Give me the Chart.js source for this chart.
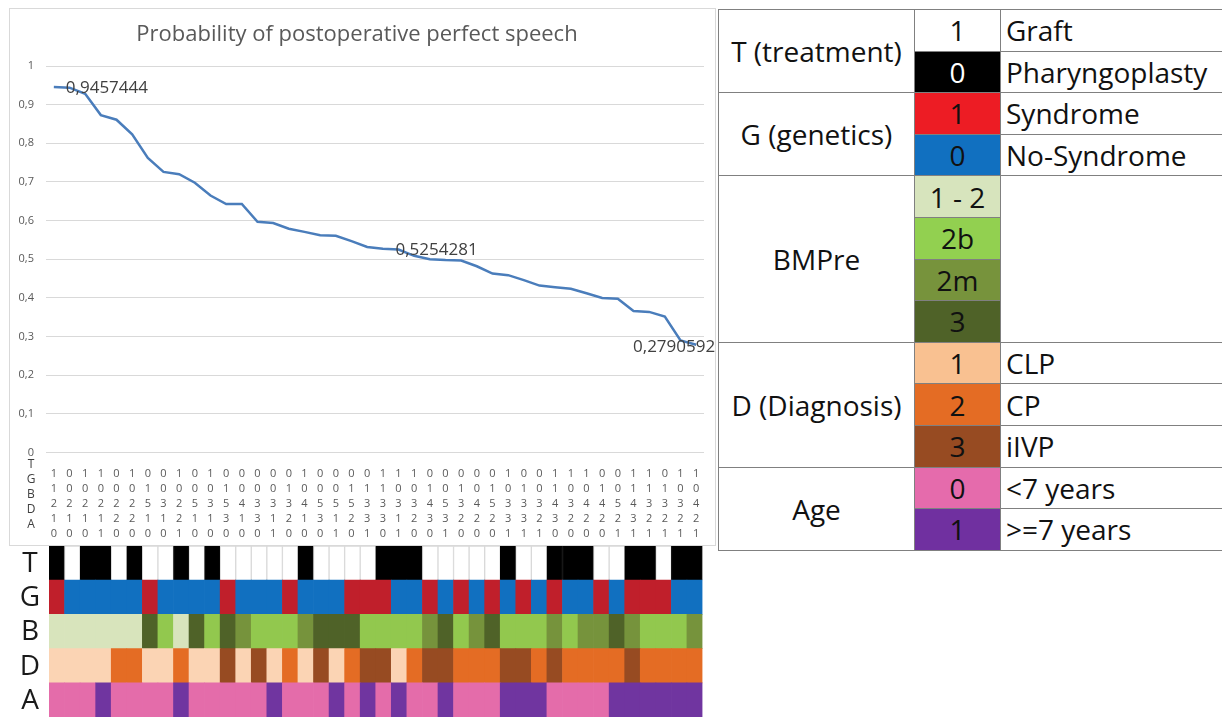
<!DOCTYPE html>
<html>
<head>
<meta charset="utf-8">
<script src="https://cdn.jsdelivr.net/npm/chart.js@4.4.1/dist/chart.umd.min.js"></script>
<style>
  html, body { margin: 0; padding: 0; background: #fff; width: 1222px; height: 717px; overflow: hidden; font-family: "Open Sans", sans-serif; }
  #lineBox { position: absolute; left: 9px; top: 8px; width: 707px; height: 538px; border: 1px solid #d9d9d9; box-sizing: border-box; }
  #heatBox { position: absolute; left: 0; top: 546px; width: 715px; height: 171px; }
  #legend { position: absolute; left: 718px; top: 9px; border-collapse: collapse; table-layout: fixed; width: 522px; }
  #legend td { height: 40.6px; padding: 0; border: 1.5px solid #808080; font-size: 28px; color: #111; line-height: 1; white-space: nowrap; }
  #legend td.lab { text-align: center; }
  #legend td.sw { text-align: center; }
  #legend td.desc { padding-left: 5px; }
</style>
</head>
<body>
<div id="lineBox"><canvas id="lineChart"></canvas></div>
<div id="heatBox"><canvas id="heatChart"></canvas></div>

<table id="legend">
  <colgroup><col style="width:196px"><col style="width:86px"><col style="width:240px"></colgroup>
  <tr><td class="lab" rowspan="2">T (treatment)</td><td class="sw" style="background:#fff">1</td><td class="desc">Graft</td></tr>
  <tr><td class="sw" style="background:#000;color:#fff">0</td><td class="desc">Pharyngoplasty</td></tr>
  <tr><td class="lab" rowspan="2">G (genetics)</td><td class="sw" style="background:#ed1c24">1</td><td class="desc">Syndrome</td></tr>
  <tr><td class="sw" style="background:#1170c0">0</td><td class="desc">No-Syndrome</td></tr>
  <tr><td class="lab" rowspan="4">BMPre</td><td class="sw" style="background:#d7e4bd">1 - 2</td><td class="desc" rowspan="4"></td></tr>
  <tr><td class="sw" style="background:#92d050">2b</td></tr>
  <tr><td class="sw" style="background:#77933c">2m</td></tr>
  <tr><td class="sw" style="background:#4f6228">3</td></tr>
  <tr><td class="lab" rowspan="3">D (Diagnosis)</td><td class="sw" style="background:#f9c191">1</td><td class="desc">CLP</td></tr>
  <tr><td class="sw" style="background:#e46c24">2</td><td class="desc">CP</td></tr>
  <tr><td class="sw" style="background:#974b22">3</td><td class="desc">iIVP</td></tr>
  <tr><td class="lab" rowspan="2">Age</td><td class="sw" style="background:#e56bac">0</td><td class="desc">&lt;7 years</td></tr>
  <tr><td class="sw" style="background:#7030a0">1</td><td class="desc">&gt;=7 years</td></tr>
</table>

<script>
// patient profiles (one column each)
const T = [1,0,1,1,0,1,0,0,1,0,1,0,0,0,0,0,1,0,0,0,0,1,1,1,0,0,0,0,0,1,0,0,1,1,1,0,0,1,1,0,1,1];
const G = [1,0,0,0,0,0,1,0,0,0,0,1,0,0,0,1,0,0,0,1,1,1,0,0,1,0,1,0,1,0,1,0,1,0,0,1,0,1,1,1,0,0,1];
const B = [2,2,2,2,2,2,5,3,2,5,3,5,4,3,3,3,4,5,5,5,3,3,3,3,4,5,3,4,5,3,3,3,4,3,4,4,5,4,3,3,3,4];
const D = [1,1,1,1,2,2,1,1,2,1,1,3,1,3,1,2,1,3,1,2,3,3,1,2,3,3,2,2,2,3,3,2,3,2,2,2,2,3,2,2,2,2];
const A = [0,0,0,1,0,0,0,0,1,0,0,0,0,0,1,0,0,0,1,0,1,0,1,0,0,1,0,0,0,1,1,1,0,0,0,0,1,1,1,1,1,1];

// probability of perfect speech per profile
const prob = [0.9457444,0.944,0.928,0.873,0.861,0.823,0.762,0.726,0.720,0.698,0.665,0.643,0.643,0.597,
  0.594,0.579,0.571,0.562,0.561,0.547,0.532,0.527,0.5254281,0.509,0.500,0.498,0.497,0.482,
  0.463,0.459,0.446,0.432,0.428,0.424,0.412,0.400,0.398,0.366,0.364,0.352,0.290,0.2790592];

const rowNames = ["T", "G", "B", "D", "A"];
const labels = T.map((t, i) => [t, G[i], B[i], D[i], A[i]].map(String));

const palette = {
  T: { 0: "#ffffff", 1: "#000000" },
  G: { 0: "#1170c0", 1: "#c01f2b" },
  B: { 2: "#d8e4bc", 3: "#92c84e", 4: "#76933c", 5: "#4f6228" },
  D: { 1: "#fbd4b4", 2: "#e46c24", 3: "#974b22" },
  A: { 0: "#e46caa", 1: "#7035a0" },
};

const FONT = '"Open Sans", sans-serif';
const TICK_PAD = 6;
const LINE_H = 15;

// value labels next to a few points
const pointLabels = {
  id: "pointLabels",
  afterDatasetsDraw(chart, args, opts) {
    const meta = chart.getDatasetMeta(0);
    const ctx = chart.ctx;
    ctx.save();
    ctx.font = "17px " + FONT;
    ctx.fillStyle = "#404040";
    ctx.textBaseline = "middle";
    opts.items.forEach(it => {
      const pt = meta.data[it.index];
      ctx.textAlign = it.align;
      ctx.fillText(String(prob[it.index]).replace(".", ","), pt.x + it.dx, pt.y + it.dy);
    });
    ctx.restore();
  }
};

// row names in front of the multi-line category labels
const axisRowNames = {
  id: "axisRowNames",
  afterDraw(chart) {
    const xs = chart.scales.x;
    const ctx = chart.ctx;
    ctx.save();
    ctx.font = "12px " + FONT;
    ctx.fillStyle = "#404040";
    ctx.textAlign = "center";
    ctx.textBaseline = "middle";
    rowNames.forEach((n, i) => {
      ctx.fillText(n, 21, xs.top + TICK_PAD + LINE_H * (i + 0.5) - 2);
    });
    ctx.restore();
  }
};

new Chart(document.getElementById("lineChart").getContext("2d"), {
  type: "line",
  data: {
    labels: labels,
    datasets: [{
      data: prob,
      borderColor: "#4a7dbb",
      borderWidth: 2.5,
      pointRadius: 0,
      tension: 0,
      fill: false,
    }],
  },
  options: {
    responsive: true,
    maintainAspectRatio: false,
    animation: false,
    layout: { padding: { left: 0, right: 11, top: 0, bottom: 0 } },
    scales: {
      x: {
        offset: true,
        grid: { display: false },
        border: { display: false },
        ticks: {
          autoSkip: false,
          maxRotation: 0,
          padding: TICK_PAD,
          color: "#595959",
          font: { family: FONT, size: 11, lineHeight: LINE_H / 11 },
        },
        afterFit: s => { s.height = 92.4; },
      },
      y: {
        min: 0,
        max: 1,
        grid: { color: "#d9d9d9", drawTicks: false },
        border: { display: false },
        ticks: {
          stepSize: 0.1,
          padding: 12,
          color: "#595959",
          font: { family: FONT, size: 11 },
          callback: v => (v === 0 ? "0" : v === 1 ? "1" : Number(v).toFixed(1).replace(".", ",")),
        },
        afterFit: s => { s.width = 36; },
      },
    },
    plugins: {
      legend: { display: false },
      tooltip: { enabled: false },
      title: {
        display: true,
        text: "Probability of postoperative perfect speech",
        color: "#595959",
        font: { family: FONT, size: 22, weight: "normal" },
        padding: { top: 13, bottom: 17.6 },
      },
      pointLabels: {
        items: [
          { index: 0, dx: 12, dy: 1, align: "left" },
          { index: 22, dx: -3, dy: 1, align: "left" },
          { index: 41, dx: 19, dy: 2, align: "right" },
        ],
      },
    },
  },
  plugins: [pointLabels, axisRowNames],
});

// heatmap: one stacked dataset per variable, bottom row first
const heatRows = [["A", A], ["D", D], ["B", B], ["G", G], ["T", T]];

const heatRowNames = {
  id: "heatRowNames",
  afterDraw(chart) {
    const ys = chart.scales.y;
    const ctx = chart.ctx;
    ctx.save();
    ctx.font = "28px " + FONT;
    ctx.fillStyle = "#1a1a1a";
    ctx.textAlign = "center";
    ctx.textBaseline = "middle";
    heatRows.forEach(([name], i) => {
      ctx.fillText(name, 30, ys.getPixelForValue(i + 0.5) + 1);
    });
    ctx.restore();
  }
};

new Chart(document.getElementById("heatChart").getContext("2d"), {
  type: "bar",
  data: {
    labels: labels.map((l, i) => i),
    datasets: heatRows.map(([name, vals]) => ({
      label: name,
      data: vals.map(() => 1),
      backgroundColor: vals.map(v => palette[name][v]),
      borderColor: name === "T" ? vals.map(v => (v === 0 ? "#d9d9d9" : "#000000")) : "rgba(0,0,0,0)",
      borderWidth: name === "T" ? 1 : 0,
      barPercentage: 1,
      categoryPercentage: 1,
    })),
  },
  options: {
    responsive: true,
    maintainAspectRatio: false,
    animation: false,
    layout: { padding: { left: 49, right: 12.5, top: 0, bottom: 0 } },
    scales: {
      x: { stacked: true, display: false },
      y: { stacked: true, min: 0, max: 5, display: false },
    },
    plugins: { legend: { display: false }, tooltip: { enabled: false } },
  },
  plugins: [heatRowNames],
});
</script>
</body>
</html>
